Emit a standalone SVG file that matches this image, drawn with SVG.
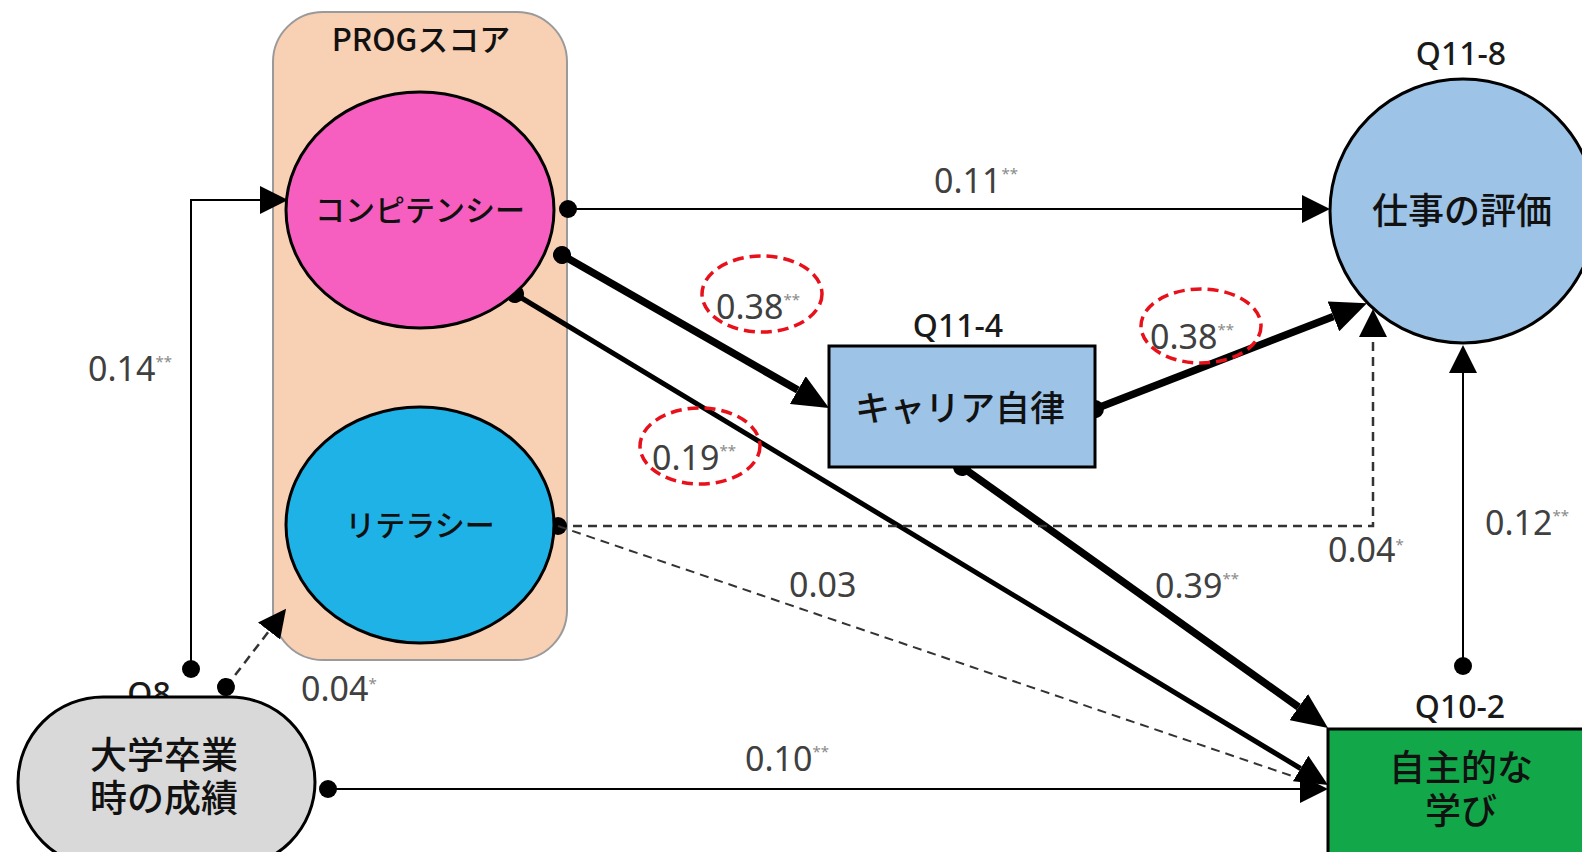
<svg xmlns="http://www.w3.org/2000/svg" width="1582" height="852" viewBox="0 0 1582 852">
<style>
  .node { stroke: #000; stroke-width: 3; }
  .lbl { font-family: "Noto Sans CJK JP", "Noto Sans", sans-serif; fill: #111; text-anchor: middle; font-weight: 500; }
  .q { font-family: "Noto Sans", "Noto Sans CJK JP", sans-serif; fill: #1a1a1a; text-anchor: middle; font-size: 32px; font-weight: 500; }
  .num { font-family: "Noto Sans", "Open Sans", sans-serif; fill: #404040; font-size: 34px; }
  .sig { font-size: 15px; fill: #8a8a8a; }
  .ln { fill: none; stroke: #000; }
  .thin { stroke-width: 2; }
  .mid { stroke-width: 5; }
  .thick { stroke-width: 7.5; }
  .dash { stroke-width: 2.5; stroke-dasharray: 9 6; stroke: #333; }
  .red { fill: none; stroke: #e8101a; stroke-width: 3.5; stroke-dasharray: 11 6; }
</style>
<defs>
  <marker id="dot" markerUnits="userSpaceOnUse" markerWidth="20" markerHeight="20" refX="10" refY="10" orient="auto">
    <circle cx="10" cy="10" r="9" fill="#000"/>
  </marker>
  <marker id="arrS" markerUnits="userSpaceOnUse" markerWidth="28" markerHeight="28" refX="0" refY="14" orient="auto">
    <path d="M0,0 L28,14 L0,28 Z" fill="#000"/>
  </marker>
  <marker id="arrM" markerUnits="userSpaceOnUse" markerWidth="32" markerHeight="30" refX="0" refY="15" orient="auto">
    <path d="M0,0 L32,15 L0,30 Z" fill="#000"/>
  </marker>
  <marker id="arrL" markerUnits="userSpaceOnUse" markerWidth="36" markerHeight="32" refX="0" refY="16" orient="auto">
    <path d="M0,0 L36,16 L0,32 Z" fill="#000"/>
  </marker>
</defs>
<rect width="1582" height="852" fill="#fff"/>

<g id="prog-group">
  <rect x="273" y="12" width="294" height="648" rx="50" ry="50" fill="#f8d0b4" stroke="#9a9a9a" stroke-width="2"/>
  <text class="lbl" x="421" y="51" font-size="31">PROGスコア</text>
</g>

<g id="q8-label">
  <text class="q" x="149" y="705">Q8</text>
</g>

<g id="connectors">
  <path class="ln thin" d="M191,669 V200 H260" marker-start="url(#dot)" marker-end="url(#arrS)"/>
  <path class="ln dash" d="M226,687 L269,631" marker-start="url(#dot)" marker-end="url(#arrS)"/>
  <path class="ln thin" d="M568,209 H1302" marker-start="url(#dot)" marker-end="url(#arrS)"/>
  <path class="ln thick" d="M562,255 L797.8,390.1" marker-start="url(#dot)" marker-end="url(#arrL)"/>
  <path class="ln mid" d="M515,294 L1300.6,768.5" marker-start="url(#dot)" marker-end="url(#arrM)"/>
  <path class="ln thick" d="M1095,409 L1333.4,316.4" marker-start="url(#dot)" marker-end="url(#arrL)"/>
  <path class="ln thick" d="M962,467 L1298.7,707.1" marker-start="url(#dot)" marker-end="url(#arrL)"/>
  <path class="ln dash" d="M558,526 H1373 V337" marker-start="url(#dot)" marker-end="url(#arrS)"/>
  <path class="ln dash" style="stroke-width:2" d="M558,526 L1295,777"/>
  <path class="ln thin" d="M328,789 H1300" marker-start="url(#dot)" marker-end="url(#arrS)"/>
  <path class="ln thin" d="M1463,666 V373" marker-start="url(#dot)" marker-end="url(#arrS)"/>
</g>

<g id="competency">
  <ellipse class="node" cx="420" cy="210" rx="134" ry="118" fill="#f65fbf"/>
  <text class="lbl" x="420" y="221" font-size="30">コンピテンシー</text>
</g>
<g id="literacy">
  <ellipse class="node" cx="420" cy="525" rx="134" ry="118" fill="#1fb2e6"/>
  <text class="lbl" x="420" y="536" font-size="30">リテラシー</text>
</g>
<g id="q11-8">
  <text class="q" x="1461" y="65">Q11-8</text>
  <ellipse class="node" cx="1463" cy="211" rx="133" ry="132" fill="#9dc3e6"/>
  <text class="lbl" x="1462" y="224" font-size="36">仕事の評価</text>
</g>
<g id="q11-4">
  <text class="q" x="958" y="337">Q11-4</text>
  <rect class="node" x="829" y="346" width="266" height="121" fill="#9dc3e6"/>
  <text class="lbl" x="960" y="421" font-size="35">キャリア自律</text>
</g>
<g id="q10-2">
  <text class="q" x="1460" y="718">Q10-2</text>
  <rect class="node" x="1328" y="729" width="270" height="135" fill="#12a84a"/>
  <text class="lbl" font-size="36"><tspan x="1461" y="781">自主的な</tspan><tspan x="1461" y="824">学び</tspan></text>
</g>
<g id="grades">
  <rect class="node" x="18" y="697" width="297" height="170" rx="85" ry="85" fill="#d9d9d9"/>
  <text class="lbl" font-size="37"><tspan x="164" y="769">大学卒業</tspan><tspan x="164" y="812">時の成績</tspan></text>
</g>

<g id="labels">
  <text class="num" x="88" y="381">0.14<tspan class="sig" dy="-14">**</tspan></text>
  <text class="num" x="301" y="701">0.04<tspan class="sig" font-size="20" dy="-12">*</tspan></text>
  <text class="num" x="934" y="193">0.11<tspan class="sig" dy="-14">**</tspan></text>
  <text class="num" x="716" y="319">0.38<tspan class="sig" dy="-14">**</tspan></text>
  <ellipse class="red" cx="762" cy="294" rx="60" ry="38"/>
  <text class="num" x="652" y="470">0.19<tspan class="sig" dy="-14">**</tspan></text>
  <ellipse class="red" cx="700" cy="446" rx="60" ry="38"/>
  <text class="num" x="1150" y="349">0.38<tspan class="sig" dy="-14">**</tspan></text>
  <ellipse class="red" cx="1201" cy="326" rx="60" ry="37"/>
  <text class="num" x="1155" y="598">0.39<tspan class="sig" dy="-14">**</tspan></text>
  <text class="num" x="789" y="597">0.03</text>
  <text class="num" x="1328" y="562">0.04<tspan class="sig" font-size="20" dy="-12">*</tspan></text>
  <text class="num" x="1485" y="535">0.12<tspan class="sig" dy="-14">**</tspan></text>
  <text class="num" x="745" y="771">0.10<tspan class="sig" dy="-14">**</tspan></text>
</g>
</svg>
